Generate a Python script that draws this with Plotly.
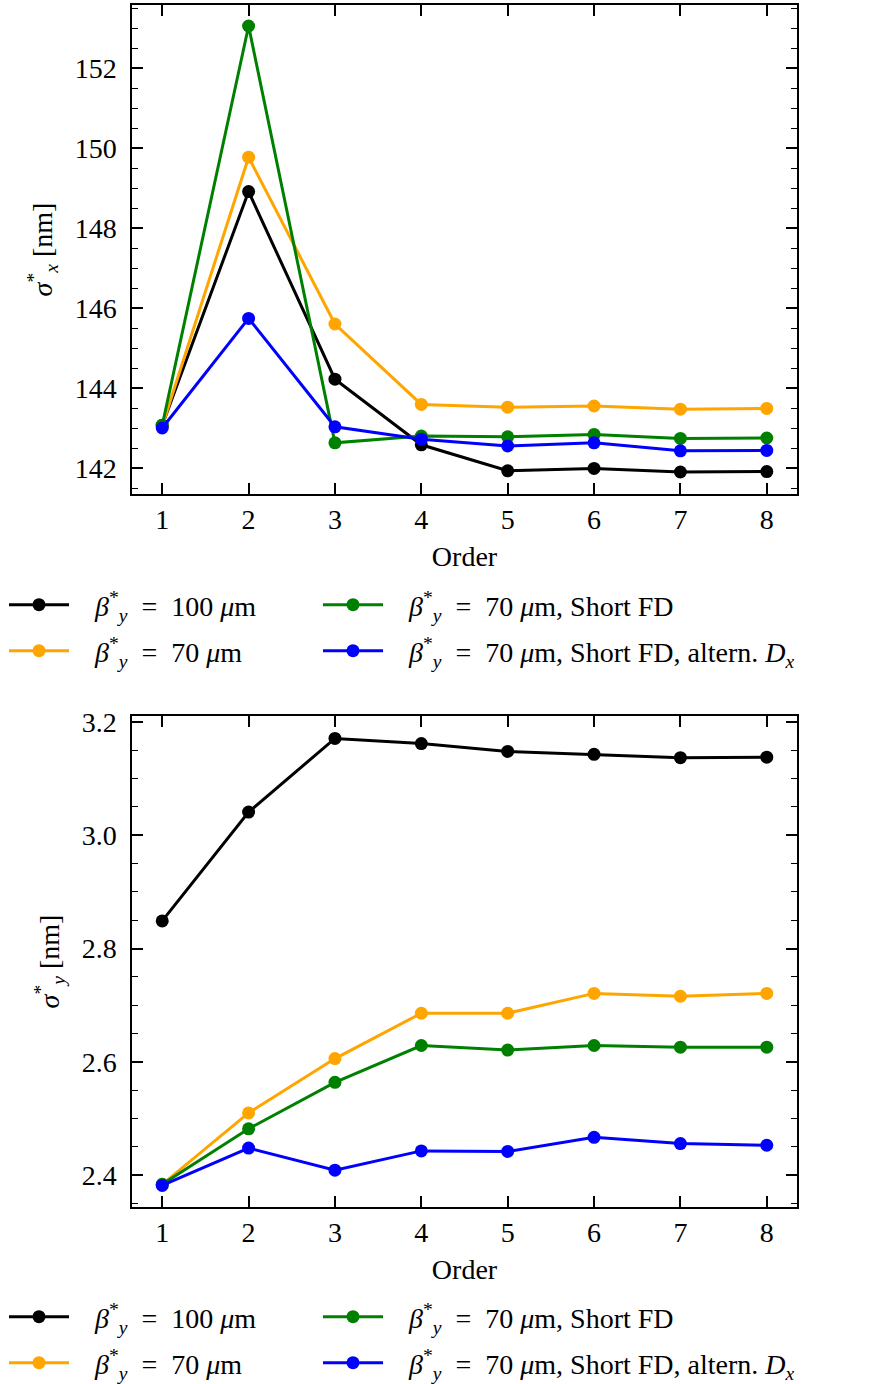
import plotly.graph_objects as go

order = [1, 2, 3, 4, 5, 6, 7, 8]

GAP = "\u00a0\u00a0\u00a0"
EQ = "\u2002=\u2002"
labels = [
    GAP + "<i>β</i><sup>*</sup><sub><i>y</i></sub>" + EQ + "100 <i>μ</i>m",
    GAP + "<i>β</i><sup>*</sup><sub><i>y</i></sub>" + EQ + "70 <i>μ</i>m",
    GAP + "<i>β</i><sup>*</sup><sub><i>y</i></sub>" + EQ + "70 <i>μ</i>m, Short FD",
    GAP + "<i>β</i><sup>*</sup><sub><i>y</i></sub>" + EQ + "70 <i>μ</i>m, Short FD, altern. <i>D<sub>x</sub></i>",
]
colors = ["black", "#FFA500", "#008000", "#0000FF"]

# sigma_x* [nm]
sx_b100 = [143.07, 148.91, 144.22, 142.58, 141.93, 141.99, 141.90, 141.91]
sx_b70 = [143.05, 149.77, 145.60, 143.59, 143.52, 143.55, 143.47, 143.49]
sx_b70_sfd = [143.07, 153.05, 142.63, 142.80, 142.78, 142.84, 142.74, 142.75]
sx_b70_sfd_alt = [143.00, 145.74, 143.03, 142.72, 142.55, 142.63, 142.43, 142.44]

# sigma_y* [nm]
sy_b100 = [2.849, 3.041, 3.171, 3.162, 3.148, 3.143, 3.137, 3.138]
sy_b70 = [2.384, 2.510, 2.606, 2.686, 2.686, 2.721, 2.716, 2.721]
sy_b70_sfd = [2.384, 2.482, 2.564, 2.629, 2.621, 2.629, 2.626, 2.626]
sy_b70_sfd_alt = [2.382, 2.448, 2.409, 2.443, 2.442, 2.467, 2.456, 2.453]

top_series = [sx_b100, sx_b70, sx_b70_sfd, sx_b70_sfd_alt]
bot_series = [sy_b100, sy_b70, sy_b70_sfd, sy_b70_sfd_alt]

W, H = 874, 1384
FONT = "Liberation Serif"
FS = 28


def fx(px):
    return px / W


def fy(py):
    return 1 - py / H


fig = go.Figure()

col_x = [4, 318]
rows_top = [605, 651]
rows_bot = [1317, 1363]
pos = [(0, 0), (0, 1), (1, 0), (1, 1)]  # black, orange, green, blue

legend_layouts = {}
for series, xa, ya, rows, off in [
    (top_series, "x", "y", rows_top, 0),
    (bot_series, "x2", "y2", rows_bot, 4),
]:
    for i, vals in enumerate(series):
        lname = "legend" if off + i == 0 else f"legend{off + i + 1}"
        fig.add_trace(go.Scatter(
            x=order, y=vals, mode="lines+markers", name=labels[i],
            line=dict(color=colors[i], width=3),
            marker=dict(color=colors[i], size=13),
            xaxis=xa, yaxis=ya, legend=lname, showlegend=True,
        ))
        c, r = pos[i]
        legend_layouts[lname] = dict(
            x=fx(col_x[c]), y=fy(rows[r]), xanchor="left", yanchor="middle",
            bgcolor="rgba(0,0,0,0)", font=dict(family=FONT, size=FS, color="black"),
            itemwidth=60,
        )

axis_common = dict(
    showline=True, linecolor="black", linewidth=1.5, mirror="ticks",
    ticks="inside", ticklen=11, tickwidth=1.5, tickcolor="black",
    showgrid=False, zeroline=False, automargin=False,
    tickfont=dict(family=FONT, size=FS, color="black"),
)

xdom = [fx(132), fx(797)]
fig.update_layout(
    width=W, height=H, plot_bgcolor="white", paper_bgcolor="white",
    margin=dict(l=0, r=0, t=0, b=0, pad=0, autoexpand=False),
    font=dict(family=FONT, size=FS, color="black"),
    xaxis=dict(domain=xdom, anchor="y", range=[0.65, 8.35], tickmode="array",
               tickvals=order, ticktext=[str(v) for v in order],
               title=dict(text="Order", standoff=12, font=dict(family=FONT, size=FS)),
               **axis_common),
    yaxis=dict(domain=[fy(494), fy(5)], anchor="x", range=[141.35, 153.575],
               tickmode="linear", tick0=142, dtick=2, ticklabelstandoff=8,
               minor=dict(dtick=0.5, ticks="inside", ticklen=6, tickwidth=1.2, tickcolor="black"),
               title=dict(text="<i>σ</i><sup>*</sup><sub><i>x</i></sub> [nm]", standoff=14,
                          font=dict(family=FONT, size=FS)),
               **axis_common),
    xaxis2=dict(domain=xdom, anchor="y2", range=[0.65, 8.35], tickmode="array",
                tickvals=order, ticktext=[str(v) for v in order],
                title=dict(text="Order", standoff=12, font=dict(family=FONT, size=FS)),
                **axis_common),
    yaxis2=dict(domain=[fy(1207), fy(716)], anchor="x2", range=[2.344, 3.2106],
                tickmode="linear", tick0=2.4, dtick=0.2, tickformat=".1f", ticklabelstandoff=8,
                minor=dict(dtick=0.05, ticks="inside", ticklen=6, tickwidth=1.2, tickcolor="black"),
                title=dict(text="<i>σ</i><sup>*</sup><sub><i>y</i></sub> [nm]", standoff=14,
                           font=dict(family=FONT, size=FS)),
                **axis_common),
    **legend_layouts,
)

fig.write_html(
    "out.html",
    config={"displayModeBar": False},
    post_script=(
        "document.body.style.margin='0px';"
        "document.body.style.overflow='hidden';"
        "var d=document.getElementById('{plot_id}');"
        "d.style.position='fixed';d.style.top='0px';d.style.left='0px';"
    ),
)
